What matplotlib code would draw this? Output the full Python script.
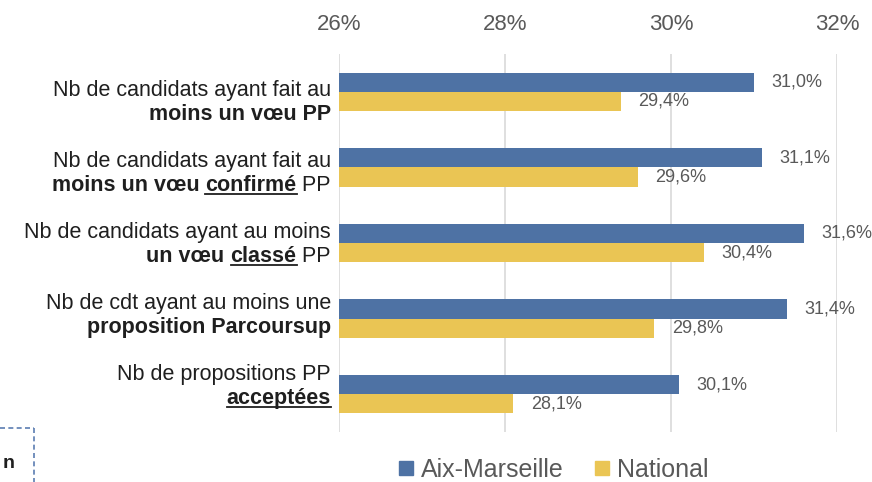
import matplotlib
matplotlib.use("Agg")
import matplotlib.pyplot as plt
from matplotlib.lines import Line2D
import numpy as np

# ---------------- data ----------------
label_line1 = [
    "Nb de candidats ayant fait au",
    "Nb de candidats ayant fait au",
    "Nb de candidats ayant au moins",
    "Nb de cdt ayant au moins une",
    "Nb de propositions PP",
]
# (text, weight, underlined)
label_line2 = [
    [("moins un vœu PP", "bold", False)],
    [("moins un vœu ", "bold", False), ("confirmé", "bold", True), (" PP", "normal", False)],
    [("un vœu ", "bold", False), ("classé", "bold", True), (" PP", "normal", False)],
    [("proposition Parcoursup", "bold", False)],
    [("acceptées", "bold", True)],
]
aix_marseille = [31.0, 31.1, 31.6, 31.4, 30.1]
national = [29.4, 29.6, 30.4, 29.8, 28.1]
series_names = ["Aix-Marseille", "National"]
x_ticks = [26, 28, 30, 32]
x_tick_labels = ["26%", "28%", "30%", "32%"]

# ---------------- style ----------------
BLUE = "#4E72A4"
YELLOW = "#EAC554"
GRID = "#D9D9D9"
LABEL_C = "#1F1F1F"
GRAY_T = "#595959"
FONT = "Liberation Sans"
plt.rcParams["font.family"] = [FONT, "DejaVu Sans"]

W, H = 872, 482
fig = plt.figure(figsize=(W / 100, H / 100), dpi=100)
ax_left, ax_right, ax_top, ax_bot = 339, 837, 54, 432
ax = fig.add_axes([ax_left / W, 1 - ax_bot / H, (ax_right - ax_left) / W, (ax_bot - ax_top) / H])

n = len(aix_marseille)
y = np.arange(n)
h = 0.255
ax.barh(y - h / 2, aix_marseille, height=h, color=BLUE, zorder=3, label=series_names[0])
ax.barh(y + h / 2, national, height=h, color=YELLOW, zorder=3, label=series_names[1])

ax.set_xlim(x_ticks[0], x_ticks[-1])
ax.set_ylim(n - 0.5, -0.5)
ax.set_xticks(x_ticks)
ax.set_xticklabels(x_tick_labels)
ax.xaxis.tick_top()
ax.tick_params(axis="x", length=0, pad=14, labelsize=16, labelcolor=GRAY_T)
ax.set_yticks([])
for s in ax.spines.values():
    s.set_visible(False)
ax.grid(axis="x", color=GRID, lw=1.2, zorder=0)

def fmt(v):
    return f"{v:.1f}%".replace(".", ",")

for yi, v in zip(y, aix_marseille):
    ax.annotate(fmt(v), (v, yi - h / 2), xytext=(12.5, 0), textcoords="offset points",
                va="center", ha="left", fontsize=13, color=GRAY_T)
for yi, v in zip(y, national):
    ax.annotate(fmt(v), (v, yi + h / 2), xytext=(12.5, 0), textcoords="offset points",
                va="center", ha="left", fontsize=13, color=GRAY_T)

# ---------------- category labels (mixed styles) ----------------
renderer = fig.canvas.get_renderer()
LFS = 15.5

def text_width(s, weight):
    t1 = fig.text(0, 0, "|" + s + "|", fontsize=LFS, fontweight=weight)
    t2 = fig.text(0, 0, "||", fontsize=LFS, fontweight=weight)
    w = t1.get_window_extent(renderer).width - t2.get_window_extent(renderer).width
    t1.remove(); t2.remove()
    return w

x_right = 331
for i in range(n):
    c = 101 + 71 * i
    b1 = c - 5
    b2 = c + 19
    fig.text(x_right / W, 1 - b1 / H, label_line1[i], ha="right", va="baseline",
             fontsize=LFS, color=LABEL_C)
    xr = x_right
    for seg, weight, under in reversed(label_line2[i]):
        w = text_width(seg, weight)
        fig.text(xr / W, 1 - b2 / H, seg, ha="right", va="baseline", fontsize=LFS,
                 fontweight=weight, color=LABEL_C)
        if under:
            uy = 1 - (b2 + 3) / H
            fig.add_artist(Line2D([(xr - w) / W, xr / W], [uy, uy], color=LABEL_C, lw=1.3,
                                  transform=fig.transFigure))
        xr -= w

# ---------------- legend ----------------
handles = [Line2D([], [], marker="s", ls="", markersize=10.5, color=BLUE),
           Line2D([], [], marker="s", ls="", markersize=10.5, color=YELLOW)]
leg = fig.legend(handles, series_names, loc="center", bbox_to_anchor=(553 / W, 1 - 470 / H),
                 ncol=2, frameon=False, fontsize=18, handlelength=0.7, handletextpad=0.25,
                 columnspacing=1.2, labelcolor=GRAY_T)

# ---------------- partial dashed box bottom-left ----------------
dash_c = "#5B7DB1"
fig.add_artist(Line2D([0, 34 / W], [1 - 428 / H, 1 - 428 / H], ls=(0, (3, 2)), color=dash_c,
                      lw=1.2, transform=fig.transFigure))
fig.add_artist(Line2D([34 / W, 34 / W], [1 - 428 / H, 0], ls=(0, (3, 2)), color=dash_c,
                      lw=1.2, transform=fig.transFigure))
fig.text(3 / W, 1 - 463 / H, "n", fontsize=14, fontweight="bold", color=LABEL_C,
         ha="left", va="center")

fig.savefig("out.png", dpi=100)
